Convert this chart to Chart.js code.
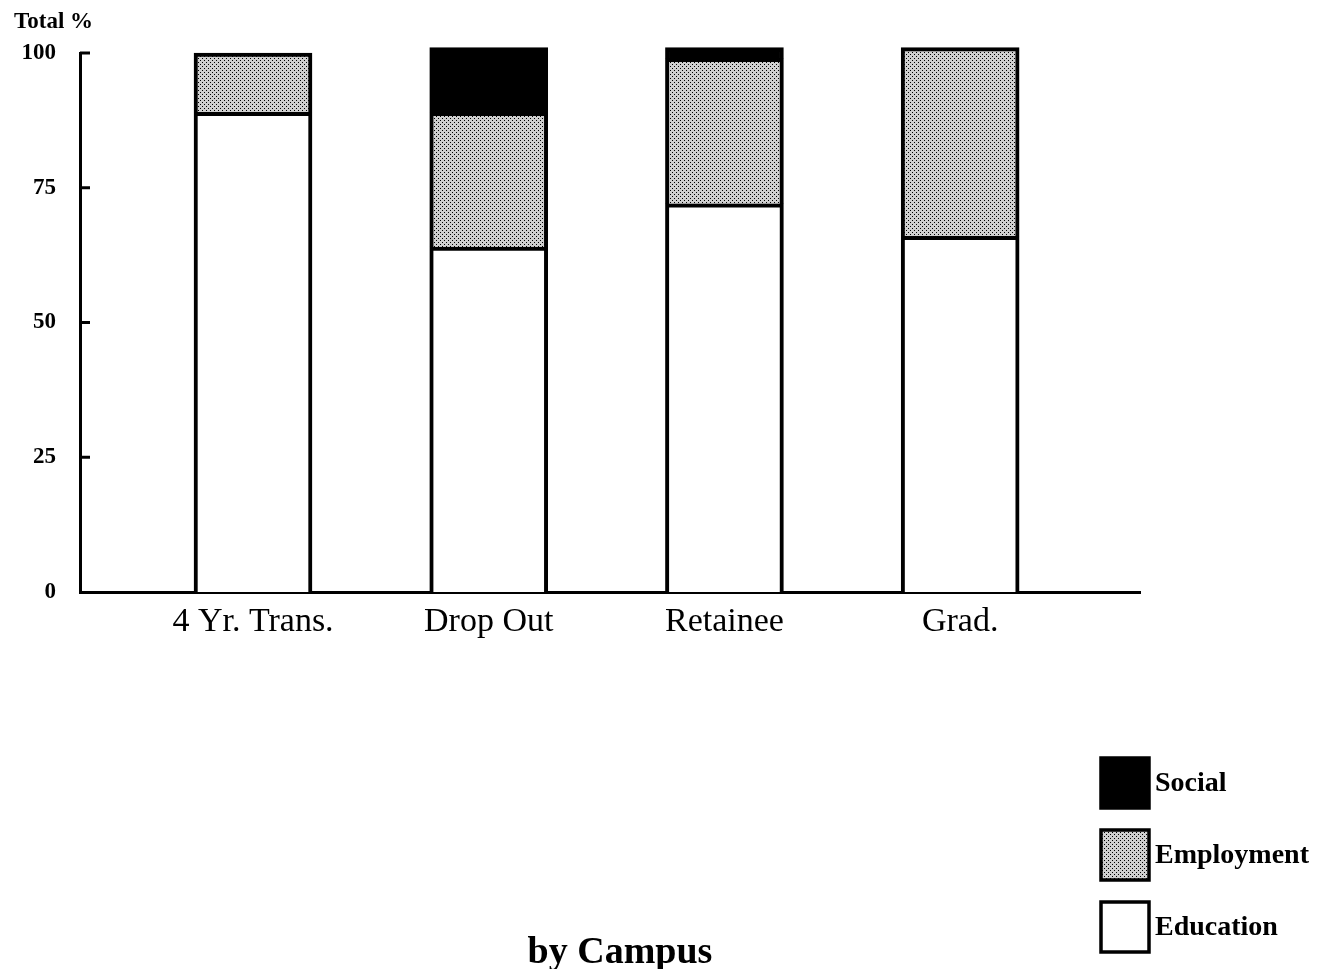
<!DOCTYPE html>
<html>
<head>
<meta charset="utf-8">
<script src="https://cdn.jsdelivr.net/npm/chart.js@4"></script>
<style>
  html, body { margin: 0; padding: 0; background: #fff; overflow: hidden; }
  canvas { display: block; }
</style>
</head>
<body>
<canvas id="c" width="1319" height="969"></canvas>
<script>
// ---- data ----
const categories = ['4 Yr. Trans.', 'Drop Out', 'Retainee', 'Grad.'];
const education  = [89, 64, 72, 66];
const employment = [11, 25, 27, 35];
const social     = [null, 12, 2, null];
const yTickValues = [0, 25, 50, 75, 100];
const yAxisTitle = 'Total %';
const chartTitle = 'by Campus';

// ---- dotted fill pattern for Employment ----
function dotPattern() {
  const t = document.createElement('canvas');
  t.width = 4; t.height = 4;
  const g = t.getContext('2d');
  g.fillStyle = '#cfcfcf';
  g.fillRect(0, 0, 4, 4);
  g.fillStyle = '#000';
  g.fillRect(0, 0, 1, 1);
  g.fillRect(2, 2, 1, 1);
  return g.createPattern(t, 'repeat');
}
const ctx = document.getElementById('c').getContext('2d');
const pattern = dotPattern();

const pts = arr => arr.map((v, i) => ({ x: i + 1, y: v }));
const SERIF = "'Liberation Serif', 'DejaVu Serif', serif";

const decor = {
  id: 'decor',
  afterDraw(chart) {
    const c = chart.ctx;
    const area = chart.chartArea;
    const ys = chart.scales.y;
    c.save();
    // inward y tick marks
    c.strokeStyle = '#000';
    c.lineWidth = 3;
    yTickValues.forEach(v => {
      if (v === 0) return;
      const py = ys.getPixelForValue(v);
      c.beginPath();
      c.moveTo(area.left, py);
      c.lineTo(area.left + 10, py);
      c.stroke();
    });
    // y-axis title
    c.fillStyle = '#000';
    c.font = 'bold 23px ' + SERIF;
    c.textAlign = 'left';
    c.textBaseline = 'alphabetic';
    c.fillText(yAxisTitle, 14, 28);
    // legend (reverse order)
    const ds = chart.data.datasets.slice().reverse();
    ds.forEach((d, i) => {
      const bx = 1101, by = 758 + i * 72, bw = 48, bh = 50;
      c.fillStyle = d.backgroundColor;
      c.fillRect(bx, by, bw, bh);
      c.lineWidth = 3.5;
      c.strokeStyle = '#000';
      c.strokeRect(bx, by, bw, bh);
      c.fillStyle = '#000';
      c.font = 'bold 28px ' + SERIF;
      c.textBaseline = 'middle';
      c.textAlign = 'left';
      c.fillText(d.label, 1155, by + bh / 2 + 1);
    });
    // bottom title
    c.font = 'bold 38px ' + SERIF;
    c.textAlign = 'center';
    c.textBaseline = 'alphabetic';
    c.fillText(chartTitle, 620, 963);
    c.restore();
  }
};

new Chart(ctx, {
  type: 'bar',
  data: {
    datasets: [
      { label: 'Education',  data: pts(education),  backgroundColor: '#ffffff' },
      { label: 'Employment', data: pts(employment), backgroundColor: pattern },
      { label: 'Social',     data: pts(social),     backgroundColor: '#000000' }
    ]
  },
  options: {
    responsive: false,
    animation: false,
    clip: false,
    layout: { padding: { left: 0, right: 179, top: 53, bottom: 0 } },
    datasets: {
      bar: { barThickness: 118, borderColor: '#000', borderWidth: 4, clip: false }
    },
    plugins: { legend: { display: false }, tooltip: { enabled: false } },
    scales: {
      x: {
        type: 'linear',
        stacked: true,
        offset: false,
        min: 0.266,
        max: 4.763,
        afterBuildTicks: s => { s.ticks = categories.map((_, i) => ({ value: i + 1 })); },
        afterFit: s => { s.height = 969 - 592; },
        ticks: {
          callback: v => categories[v - 1] ?? '',
          font: { family: SERIF, size: 34 },
          color: '#000',
          padding: 10,
          maxRotation: 0,
          autoSkip: false
        },
        grid: { display: false, drawTicks: false, offset: false },
        border: { display: true, color: '#000', width: 3 }
      },
      y: {
        stacked: true,
        min: 0,
        max: 100,
        afterBuildTicks: s => { s.ticks = yTickValues.map(v => ({ value: v })); },
        afterFit: s => { s.width = 80; },
        ticks: {
          font: { family: SERIF, size: 23, weight: 'bold' },
          color: '#000',
          padding: 24
        },
        grid: { display: false, drawTicks: false },
        border: { display: true, color: '#000', width: 3 }
      }
    }
  },
  plugins: [decor]
});
</script>
</body>
</html>
